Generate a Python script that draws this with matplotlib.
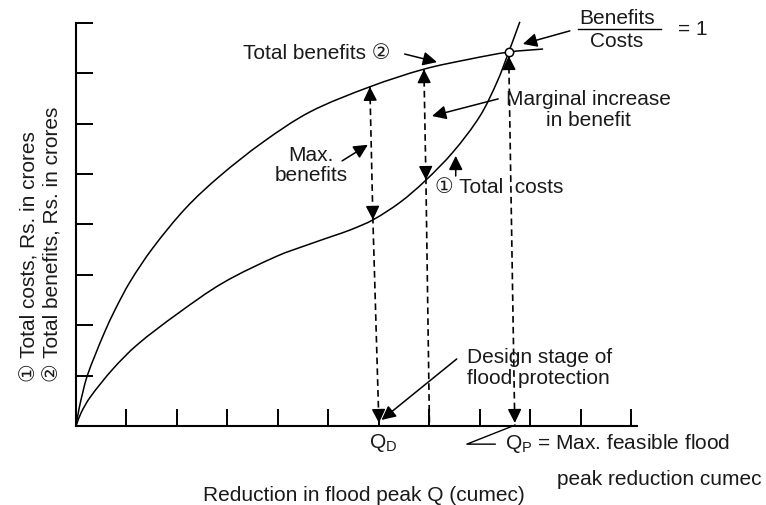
import numpy as np
import matplotlib.pyplot as plt
from matplotlib.path import Path
from matplotlib.patches import PathPatch

plt.rcParams['font.family'] = ['Liberation Sans', 'DejaVu Sans', 'Noto Sans CJK JP']
plt.rcParams['mathtext.default'] = 'regular'

# curves read as (Q, value); Q in tick units, value in crores
benefit_q = [0, 0.06, 0.14, 0.22, 0.38, 0.57, 0.77, 1.07, 1.52, 2.18, 2.85, 3.70, 4.63,
             5.82, 6.89, 7.80, 8.57, 9.25]
benefit_v = [0, 0.34, 0.69, 0.99, 1.41, 1.87, 2.30, 2.86, 3.53, 4.33, 4.96, 5.63, 6.23,
             6.73, 7.08, 7.28, 7.42, 7.48]
cost_q = [0, 0.10, 0.28, 0.73, 1.21, 2.00, 2.91, 3.98, 4.63, 5.09, 5.43, 5.88, 6.42, 6.91,
          7.47, 8.00, 8.34, 8.57, 8.79]
cost_v = [0, 0.26, 0.57, 1.13, 1.61, 2.22, 2.84, 3.37, 3.61, 3.77, 3.89, 4.09, 4.44, 4.86,
          5.44, 6.15, 6.83, 7.42, 8.02]

QD = 6.0        # design stage
Q_marg = 7.0    # marginal increase check
QP = 8.69       # max feasible reduction
B_eq_C = 8.57   # benefits/costs = 1

FS = 15


def benefit(q):
    return np.interp(q, benefit_q, benefit_v)


def cost(q):
    return np.interp(q, cost_q, cost_v)


def smooth_path(xs, ys):
    # cubic bezier through every point, tangents from the neighbours
    p = np.column_stack([xs, ys]).astype(float)
    n = len(p)
    tang = []
    for i in range(n):
        d = p[min(i + 1, n - 1)] - p[max(i - 1, 0)]
        tang.append(d / np.hypot(*d))
    verts, codes = [p[0]], [Path.MOVETO]
    for i in range(n - 1):
        L = np.hypot(*(p[i + 1] - p[i])) / 3
        verts += [p[i] + tang[i] * L, p[i + 1] - tang[i + 1] * L, p[i + 1]]
        codes += [Path.CURVE4] * 3
    return Path(verts, codes)


def head(ax, tip, frm, size=0.16):
    # filled arrow head at tip, pointing away from frm
    d = np.array(tip) - np.array(frm)
    d = d / np.hypot(*d)
    tail = np.array(tip) - d * size
    ax.annotate('', xy=tip, xytext=tail,
                arrowprops=dict(arrowstyle='-|>,head_length=0.85,head_width=0.42',
                                mutation_scale=10, lw=1, color='black',
                                shrinkA=0, shrinkB=0))


def pointer(ax, tail, tip):
    ax.annotate('', xy=tip, xytext=tail,
                arrowprops=dict(arrowstyle='-|>,head_length=0.85,head_width=0.42',
                                mutation_scale=10, lw=1.1, color='black',
                                shrinkA=0, shrinkB=0))


fig = plt.figure(figsize=(7.66, 5.06), dpi=100)
ax = fig.add_axes([76 / 766, 79 / 506, 560.5 / 766, 403.2 / 506])
ax.set_xlim(0, 11.1)
ax.set_ylim(0, 8)
for s in ['top', 'right']:
    ax.spines[s].set_visible(False)
for s in ['left', 'bottom']:
    ax.spines[s].set_linewidth(1.5)
ax.set_xticks(range(1, 12))
ax.set_yticks(range(1, 9))
ax.tick_params(direction='in', length=12, width=1.4, labelbottom=False, labelleft=False)

for qs, vs in [(benefit_q, benefit_v), (cost_q, cost_v)]:
    ax.add_patch(PathPatch(smooth_path(qs, vs), fc='none', ec='black', lw=1.1,
                           clip_on=False, joinstyle='round'))
ax.plot([B_eq_C], [benefit(B_eq_C)], 'o', ms=6, mfc='white', mec='black', mew=1.1,
        clip_on=False, zorder=5)

dash = dict(color='black', lw=1.2, ls=(0, (4, 2.5)), clip_on=False)

# max benefits at QD
top1 = (5.82, benefit(5.82))
mid1 = (5.88, cost(5.88))
bot1 = (QD, 0.06)
ax.plot([top1[0], mid1[0], bot1[0]], [top1[1], mid1[1], 0], **dash)
head(ax, top1, mid1)
head(ax, mid1, top1)
head(ax, bot1, mid1)

# marginal increase just beyond QD
top2 = (6.89, benefit(6.89))
mid2 = (6.93, cost(6.93))
ax.plot([top2[0], mid2[0], Q_marg], [top2[1], mid2[1], 0], **dash)
head(ax, top2, mid2)
head(ax, mid2, top2)

# benefits = costs at QP
top3 = (B_eq_C, benefit(B_eq_C) - 0.08)
bot3 = (QP, 0.06)
ax.plot([top3[0], QP], [top3[1], 0], **dash)
head(ax, top3, bot3)
head(ax, bot3, top3)

txt = dict(fontsize=FS, color='#1a1a1a', clip_on=False)

ax.text(3.31, 7.42, 'Total benefits ②', ha='left', va='center', **txt)
pointer(ax, (6.51, 7.38), (7.15, 7.22))

ax.text(10.71, 8.10, 'Benefits', ha='center', va='center', **txt)
ax.text(10.71, 7.64, 'Costs', ha='center', va='center', **txt)
ax.plot([9.94, 11.58], [7.88, 7.88], color='black', lw=1, clip_on=False)
ax.text(11.92, 7.88, '= 1', ha='left', va='center', **txt)
pointer(ax, (9.78, 7.84), (8.85, 7.58))

ax.text(10.14, 6.29, 'Marginal increase\nin benefit', ha='center', va='center',
        multialignment='center', linespacing=1.1, **txt)
pointer(ax, (8.36, 6.49), (7.05, 6.15))

ax.text(4.65, 5.19, 'Max.\nbenefits', ha='center', va='center',
        multialignment='center', linespacing=1.1, **txt)
pointer(ax, (5.27, 5.26), (5.78, 5.58))

ax.text(7.11, 4.76, '① Total  costs', ha='left', va='center', **txt)
pointer(ax, (7.52, 4.96), (7.52, 5.36))

ax.text(7.74, 1.17, 'Design stage of\nflood protection', ha='left', va='center',
        multialignment='left', linespacing=1.1, **txt)
pointer(ax, (7.54, 1.33), (6.05, 0.12))

ax.text(6.08, -0.32, r'Q$_\mathregular{D}$', ha='center', va='center', **txt)
ax.text(8.50, -0.32, r'Q$_\mathregular{P}$ = Max. feasible flood', ha='left', va='center', **txt)
ax.text(9.52, -1.05, 'peak reduction cumec', ha='left', va='center', **txt)
ax.plot([8.30, 7.74, 8.65], [-0.36, -0.36, 0.0], color='black', lw=1, clip_on=False)

ax.text(2.51, -1.35, 'Reduction in flood peak Q (cumec)', ha='left', va='center', **txt)
ax.text(-0.68, 0.89, '① Total costs, Rs. in crores\n② Total benefits, Rs. in crores',
        rotation=90, ha='center', va='bottom', multialignment='left',
        linespacing=1.25, **txt)

fig.savefig('out.png', dpi=100)
